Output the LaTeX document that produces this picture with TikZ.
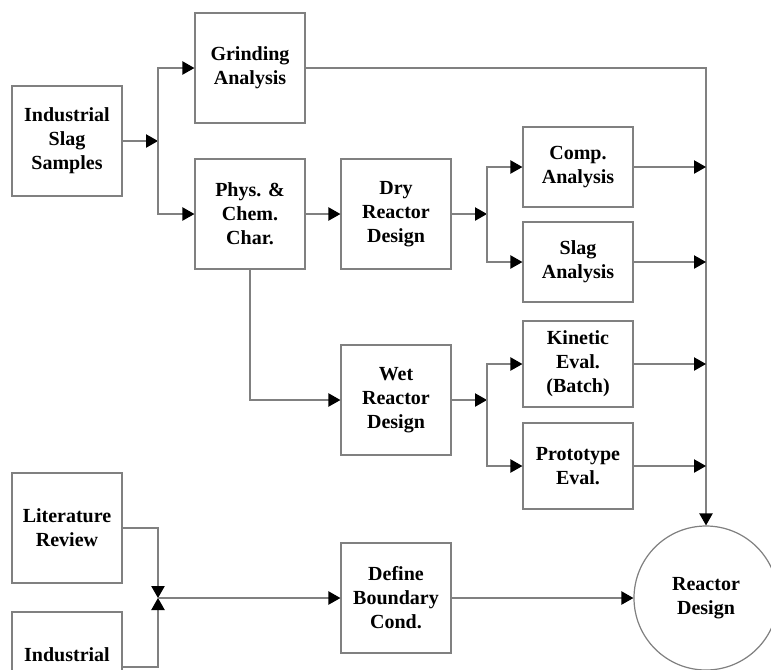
\documentclass[tikz,border=0pt]{standalone}
\usepackage{fontspec}
\setmainfont{Liberation Serif}
\usetikzlibrary{arrows.meta}
\definecolor{linegray}{RGB}{128,128,128}
\begin{document}
\begin{tikzpicture}[x=0.75pt,y=-0.75pt,
  box/.style={draw=linegray,line width=0.9pt,rectangle,align=center,inner sep=0pt,
    minimum width=82.5pt,minimum height=82.5pt,font=\fontsize{15}{18}\selectfont\bfseries},
  conn/.style={draw=linegray,line width=0.9pt},
  arr/.style={conn,-{Triangle[length=9pt,width=10pt,black]}},
  lbl/.style={align=center,inner sep=0pt,font=\fontsize{15}{18}\selectfont\bfseries}]
\useasboundingbox (0,0) rectangle (771,669);
\fill[white] (0,0) rectangle (771,669);
\begin{scope}
\clip (0,0) rectangle (771,669);
% nodes
\node[box] (iss) at (67,141) {Industrial\\Slag\\Samples};
\node[box] (grind) at (250,68) {Grinding\\Analysis};
\node[box] (phys) at (250,214) {Phys. \&\\Chem.\\Char.};
\node[box] (dry) at (396,214) {Dry\\Reactor\\Design};
\node[box,minimum height=60pt] (comp) at (578,167) {Comp.\\Analysis};
\node[box,minimum height=60pt] (slag) at (578,262) {Slag\\Analysis};
\node[box] (wet) at (396,400) {Wet\\Reactor\\Design};
\node[box,minimum height=64.5pt] (kin) at (578,364) {Kinetic\\Eval.\\(Batch)};
\node[box,minimum height=64.5pt] (proto) at (578,466) {Prototype\\Eval.};
\node[box] (lit) at (67,528) {Literature\\Review};
\node[box,minimum height=88.5pt] (ind) at (67,671) {};
\node[lbl] (indtext) at (67,655) {Industrial};
\node[box] (def) at (396,598) {Define\\Boundary\\Cond.};
\node[draw=linegray,line width=0.9pt,circle,minimum size=108pt,inner sep=0pt,align=center,
  font=\fontsize{15}{18}\selectfont\bfseries] (rd) at (706,598) {Reactor\\Design};
% junctions
\coordinate (j1) at (158,141);
\coordinate (j2) at (487,214);
\coordinate (j3) at (487,400);
\coordinate (j4) at (158,598);
\coordinate (indout) at (122,667);
% connectors
\draw[arr] (iss.east) -- (j1);
\draw[arr] (j1) |- (grind.west);
\draw[arr] (j1) |- (phys.west);
\draw[arr] (phys.east) -- (dry.west);
\draw[arr] (dry.east) -- (j2);
\draw[arr] (j2) |- (comp.west);
\draw[arr] (j2) |- (slag.west);
\draw[arr] (phys.south) |- (wet.west);
\draw[arr] (wet.east) -- (j3);
\draw[arr] (j3) |- (kin.west);
\draw[arr] (j3) |- (proto.west);
\draw[arr] (grind.east) -| (rd.north);
\draw[arr] (comp.east) -- (comp.east -| rd.north);
\draw[arr] (slag.east) -- (slag.east -| rd.north);
\draw[arr] (kin.east) -- (kin.east -| rd.north);
\draw[arr] (proto.east) -- (proto.east -| rd.north);
\draw[arr] (lit.east) -| (j4);
\draw[arr] (indout) -| (j4);
\draw[arr] (j4) -- (def.west);
\draw[arr] (def.east) -- (rd.west);
\end{scope}
\end{tikzpicture}
\end{document}
